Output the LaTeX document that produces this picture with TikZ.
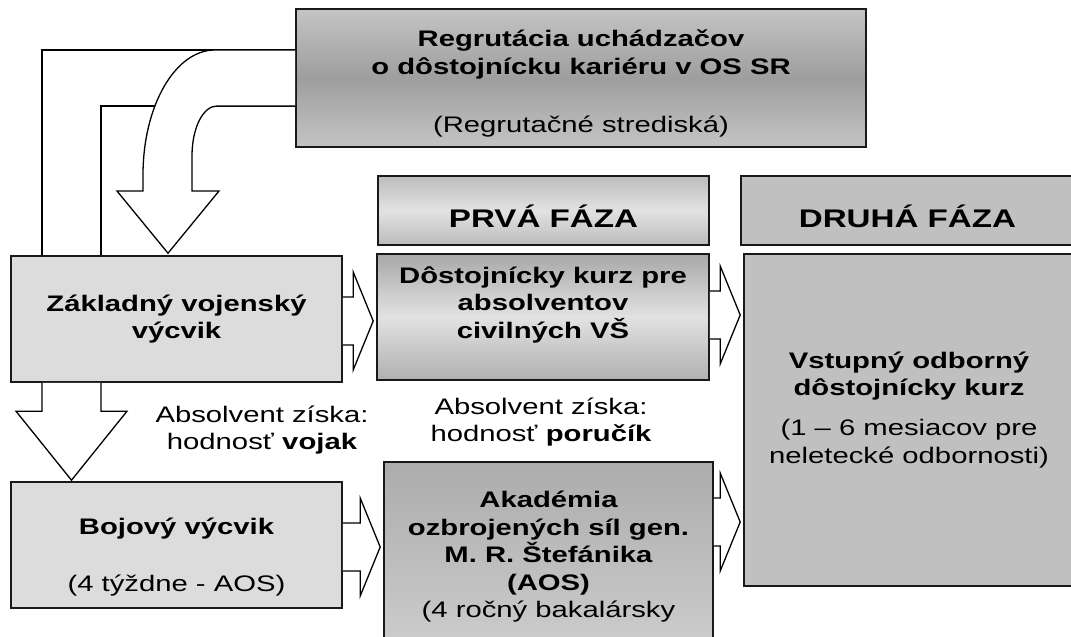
\documentclass[tikz,border=0pt]{standalone}
\usepackage{fontspec}
\setmainfont{Liberation Sans}[FakeStretch=1.3]
\usepackage{xcolor}
\usepackage{tikz}
\usetikzlibrary{positioning}
\usetikzlibrary{calc}

\definecolor{flatlight}{HTML}{DCDCDC}
\definecolor{flatgray}{HTML}{C0C0C0}
\definecolor{topedge}{HTML}{C4C4C4}
\definecolor{topmid}{HTML}{9E9E9E}
\definecolor{phaseedge}{HTML}{BCBCBC}
\definecolor{phasemid}{HTML}{E2E2E2}
\definecolor{kurztop}{HTML}{A8A8A8}
\definecolor{kurzbot}{HTML}{B0B0B0}
\definecolor{akadtop}{HTML}{ACACAC}
\definecolor{akadbot}{HTML}{CDCDCD}

\newcommand{\bodysize}{\fontsize{22.5}{27.5}\selectfont}
\newcommand{\headsize}{\fontsize{25.5}{30}\selectfont}

% white block arrow from #1 (east side) to #2 (west side) at height #3
\newcommand{\blockright}[3]{%
  \coordinate (s) at (#1.east |- 0,#3);
  \coordinate (t) at (#2.west |- 0,#3);
  \draw[blockarrow] ($(s)+(0,-24)$) -- ($(t)+(-23,-24)$) -- ($(t)+(-23,-49)$)
    -- ($(t)+(-3,0)$) -- ($(t)+(-23,49)$) -- ($(t)+(-23,24)$) -- ($(s)+(0,24)$);
}

\begin{document}
\begin{tikzpicture}[x=1pt,y=-1pt,
    box/.style={draw=black!90, line width=1.6pt, inner sep=0pt, align=center, font=\bodysize\bfseries},
    phase/.style={box, font=\headsize\bfseries, minimum height=69pt, text height=33pt, text depth=0pt},
    blockarrow/.style={draw=black, fill=white, line width=1.3pt, line join=miter},
    pipe/.style={draw=black, line width=1.3pt},
    note/.style={align=center, font=\bodysize}]
    \useasboundingbox (0,0) rectangle (1071,637);
    \clip (0,0) rectangle (1071,637);

    % Boxes
    \node[box, minimum width=570pt, minimum height=138pt, top color=topedge, bottom color=topedge, middle color=topmid] (top) at (581,78)
        {\mbox{}\\[0.5pt]Regrutácia uchádzačov\\[1pt]o dôstojnícku kariéru v OS SR\\[30.5pt]\mdseries(Regrutačné strediská)};
    \node[box, minimum width=331pt, minimum height=126pt, fill=flatlight] (zakl) at (176.5,319)
        {Základný vojenský\\výcvik};
    \node[box, minimum width=331pt, minimum height=126pt, fill=flatlight] (boj) at (176.5,545)
        {\mbox{}\\[12.5pt]Bojový výcvik\\[29.5pt]\mdseries(4 týždne - AOS)};
    \node[phase, minimum width=331pt, top color=phaseedge, bottom color=phaseedge, middle color=phasemid] (prva) at (543.5,210.5) {PRVÁ FÁZA};
    \node[box, minimum width=332pt, minimum height=126pt, top color=kurztop, bottom color=kurzbot, middle color=phasemid] (dost) at (543,317)
        {Dôstojnícky kurz pre\\absolventov\\civilných VŠ\\[1.5pt]\mbox{}};
    \node[box, minimum width=329pt, minimum height=190pt, top color=akadtop, bottom color=akadbot] (akad) at (548.5,557)
        {Akadémia\\ozbrojených síl gen.\\M. R. Štefánika\\(AOS)\\\mdseries(4 ročný bakalársky};
    \node[phase, minimum width=333pt, fill=flatgray] (druha) at (907.5,210.5) {DRUHÁ FÁZA};
    \node[box, minimum width=330pt, minimum height=332pt, fill=flatgray] (vst) at (909,420)
        {Vstupný odborný\\dôstojnícky kurz\\[12.5pt]\mdseries(1 – 6 mesiacov pre\\\mdseries neletecké odbornosti)\\[-2.5pt]\mbox{}};

    % Notes
    \node[note] (vojak) at (262,430) {Absolvent získa:\\hodnosť \textbf{vojak}};
    \node[note] (porucik) at (541,422) {Absolvent získa:\\hodnosť \textbf{poručík}};

    % Pipe from recruitment to basic training
    \draw[pipe] (zakl.north -| 42,0) |- (top.west |- 0,50);
    \draw[pipe] (zakl.north -| 101,0) |- (top.west |- 0,106);

    % Curved arrow
    \draw[blockarrow] (top.west |- 0,50) -- (215,50) .. controls (175,50) and (143,106) .. (143,175)
        -- (143,191) -- (117,191) -- ($(zakl.north -| 168,0)+(0,-2)$) -- (219,191) -- (192,191)
        -- (192,156) .. controls (192,128) and (203,106) .. (217,106) -- (top.west |- 0,106);

    % Down arrow
    \draw[blockarrow] (zakl.south -| 42,0) -- ($(boj.north -| 42,0)+(0,-70)$) -- ($(boj.north -| 16,0)+(0,-70)$)
        -- ($(boj.north -| 71.5,0)+(0,-1)$) -- ($(boj.north -| 127,0)+(0,-70)$) -- ($(boj.north -| 101,0)+(0,-70)$)
        -- (zakl.south -| 101,0);

    % Right arrows
    \blockright{zakl}{dost}{321}
    \blockright{dost}{vst}{315}
    \blockright{boj}{akad}{547}
    \blockright{akad}{vst}{522}
\end{tikzpicture}
\end{document}
